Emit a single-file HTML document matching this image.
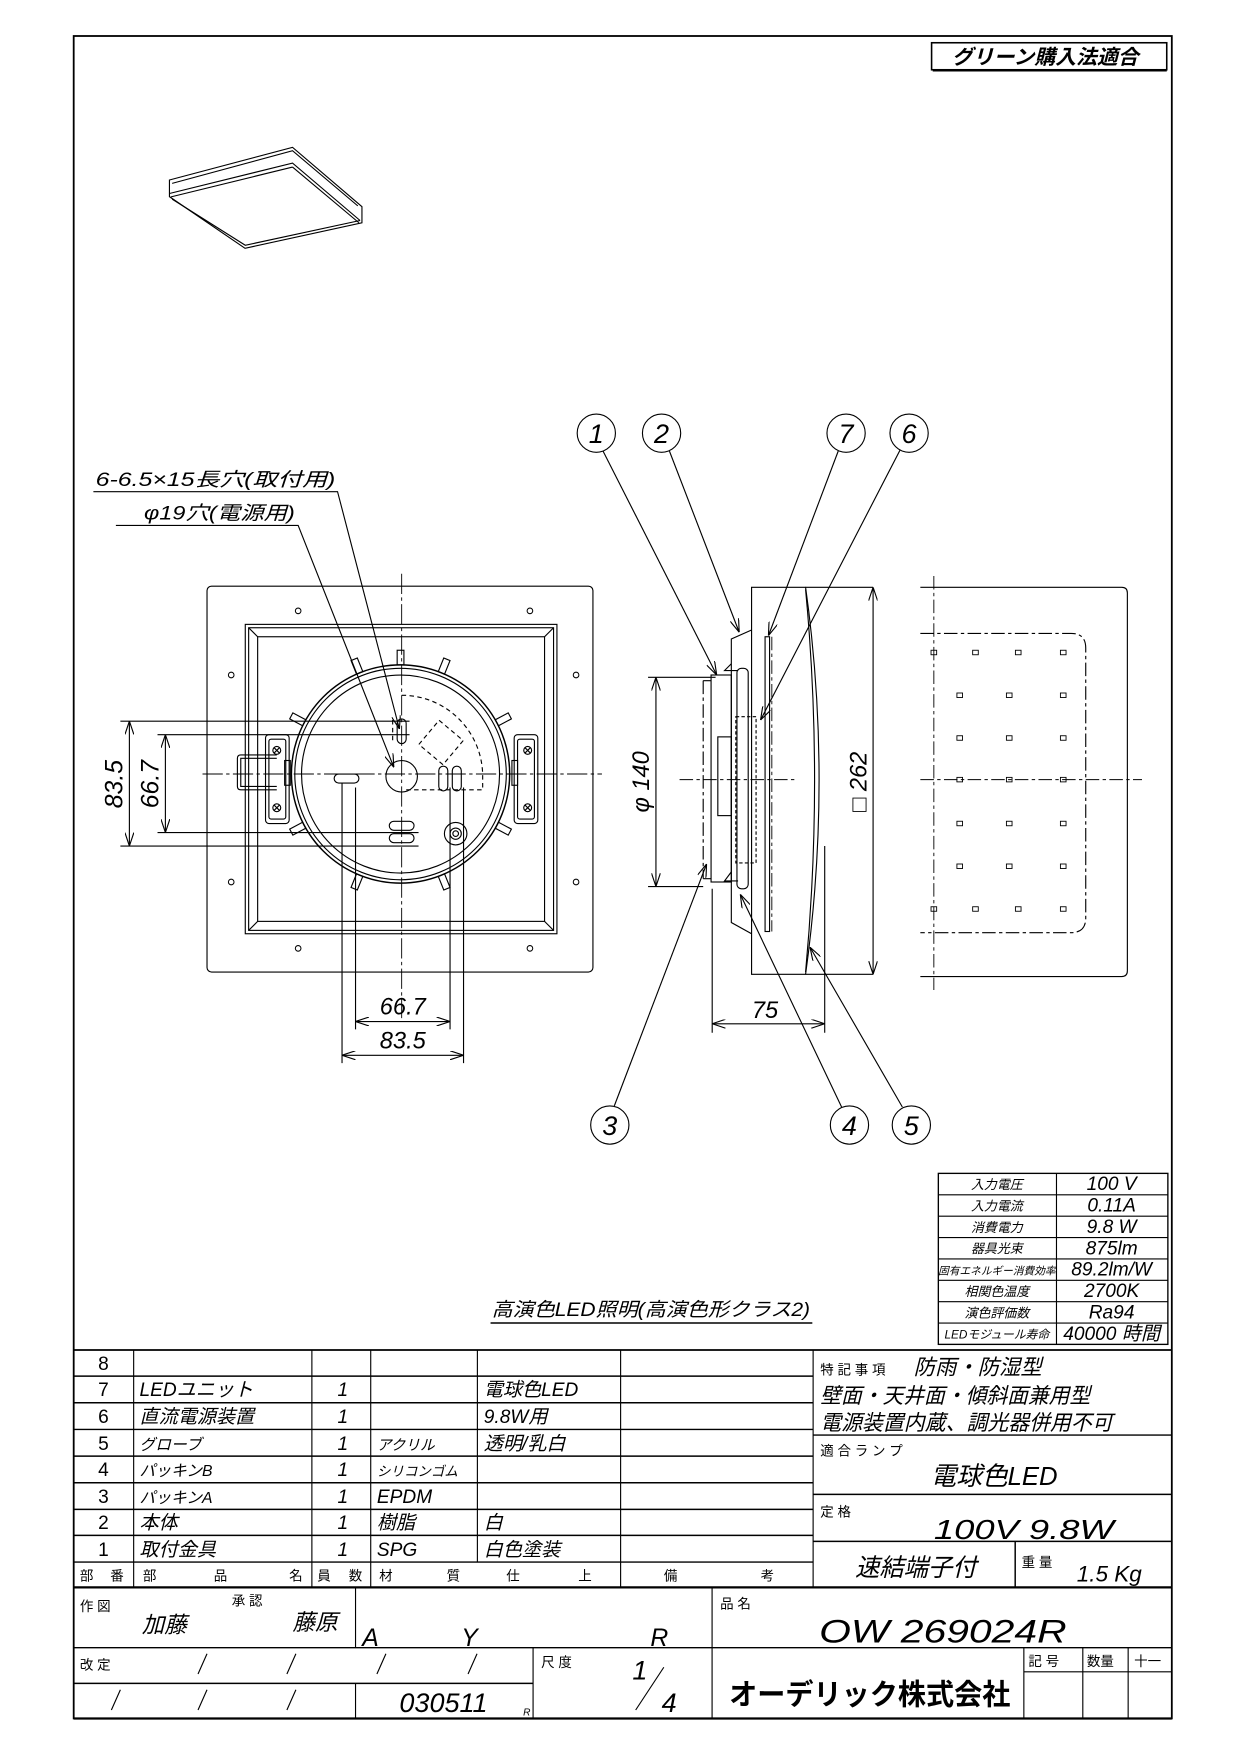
<!DOCTYPE html>
<html><head><meta charset="utf-8"><style>
html,body{margin:0;padding:0;background:#fff}
svg{display:block}
text{font-family:"Liberation Sans","Noto Sans CJK JP",sans-serif;fill:#000}
.i{font-style:italic}
</style></head><body>
<svg width="1241" height="1755" viewBox="0 0 1103 1560" preserveAspectRatio="none" xmlns="http://www.w3.org/2000/svg">
<defs>
<marker id="a" viewBox="0 0 12 8" refX="12" refY="4" markerWidth="12" markerHeight="8" orient="auto" markerUnits="userSpaceOnUse"><path d="M0,0 L12,4 L0,8" fill="none" stroke="#000" stroke-width="1"/></marker>
<marker id="b" viewBox="0 0 12 8" refX="0" refY="4" markerWidth="12" markerHeight="8" orient="auto" markerUnits="userSpaceOnUse"><path d="M12,0 L0,4 L12,8" fill="none" stroke="#000" stroke-width="1"/></marker>
</defs>
<g fill="none" stroke="#000" stroke-width="1">
<rect x="65.5" y="32" width="976" height="1495.5" stroke-width="1.6"/>
<rect x="828" y="38" width="209" height="24" stroke-width="1.4"/>
<line x1="829" y1="62.5" x2="1037" y2="62.5" stroke-width="2"/>
<path d="M150.6,160 L260,131 L321.7,183.7 L321.7,198 L217.8,220.7 L150.6,174.8 Z"/>
<path d="M153,163 L260,134 L318,183"/>
<path d="M150.6,172 L260,145 L320,196"/>
<path d="M152,175 L260,148.5"/>
<path d="M260,148.5 L319,198"/>
<path d="M153,177 L218,218 L320,196"/>
<rect x="184" y="521" width="343" height="343" rx="4"/>
<rect x="218" y="555" width="277" height="275"/>
<rect x="221" y="558" width="271" height="269"/>
<rect x="229" y="566" width="255" height="253"/>
<path d="M221,558 L229,566 M492,558 L484,566 M221,827 L229,819 M492,827 L484,819"/>
<g stroke-width="0.9">
<circle cx="265" cy="543" r="2.5"/><circle cx="471" cy="543" r="2.5"/>
<circle cx="205.5" cy="600" r="2.5"/><circle cx="512" cy="600" r="2.5"/>
<circle cx="205.5" cy="784" r="2.5"/><circle cx="512" cy="784" r="2.5"/>
<circle cx="265" cy="843" r="2.5"/><circle cx="471" cy="843" r="2.5"/>
</g>
<circle cx="356" cy="688" r="97" stroke-width="1.3"/>
<circle cx="356" cy="688" r="94"/>
<circle cx="356" cy="688" r="88"/>
<g transform="translate(356,688)">
<g id="tab"><rect x="-3" y="-110" width="6" height="13"/></g>
<use href="#tab" transform="rotate(-22)"/><use href="#tab" transform="rotate(22)"/>
<use href="#tab" transform="rotate(-62)"/><use href="#tab" transform="rotate(62)"/>
<use href="#tab" transform="rotate(-118)"/><use href="#tab" transform="rotate(118)"/>
<use href="#tab" transform="rotate(-158)"/><use href="#tab" transform="rotate(158)"/>
</g>
<rect x="236" y="653" width="21" height="79" rx="3" fill="#fff"/>
<rect x="239" y="657" width="15" height="71" rx="2"/>
<circle cx="246" cy="667" r="3.5"/><path d="M243.5,664.5 l5,5 M248.5,664.5 l-5,5"/>
<circle cx="246" cy="718" r="3.5"/><path d="M243.5,715.5 l5,5 M248.5,715.5 l-5,5"/>
<path d="M246,671 L214,671 Q211,671 211,674 L211,699 Q211,702 214,702 L246,702"/>
<path d="M246,674 L214,674 L214,699 L246,699"/>
<rect x="457" y="653" width="21" height="79" rx="3" fill="#fff"/>
<rect x="460" y="657" width="15" height="71" rx="2"/>
<circle cx="469" cy="667" r="3.5"/><path d="M466.5,664.5 l5,5 M471.5,664.5 l-5,5"/>
<circle cx="469" cy="718" r="3.5"/><path d="M466.5,715.5 l5,5 M471.5,715.5 l-5,5"/>
<rect x="253" y="676" width="5" height="22"/><rect x="455" y="676" width="5" height="22"/>
<circle cx="357" cy="690" r="14"/>
<rect x="353" y="639" width="8" height="22" rx="4"/>
<rect x="297" y="688" width="22" height="8" rx="4"/>
<rect x="390" y="681" width="8" height="22" rx="4"/><rect x="402" y="681" width="8" height="22" rx="4"/>
<rect x="346" y="730" width="22" height="8" rx="4"/><rect x="346" y="741" width="22" height="8" rx="4"/>
<circle cx="405" cy="741" r="10"/><circle cx="405" cy="741" r="5"/><circle cx="405" cy="741" r="2.5"/>
<g stroke-dasharray="4,3">
<path d="M357,618 A72,72 0 0 1 429,690 L429,702 L360,702"/>
<path d="M349,640 L349,660"/>
<rect x="378" y="646" width="28" height="28" transform="rotate(40 392 660)"/>
</g>
<g stroke-dasharray="18,3,3,3" stroke-width="0.8">
<line x1="357" y1="510" x2="357" y2="905"/>
<line x1="180" y1="688" x2="535" y2="688"/>
</g>
<line x1="107" y1="641" x2="364" y2="641"/><line x1="140" y1="653" x2="364" y2="653"/>
<line x1="140" y1="740" x2="372" y2="740"/><line x1="107" y1="752" x2="372" y2="752"/>
<line x1="115" y1="641" x2="115" y2="752" marker-start="url(#b)" marker-end="url(#a)"/>
<line x1="147" y1="653" x2="147" y2="740" marker-start="url(#b)" marker-end="url(#a)"/>
<line x1="304" y1="696" x2="304" y2="945"/><line x1="316" y1="700" x2="316" y2="915"/>
<line x1="400" y1="700" x2="400" y2="915"/><line x1="412" y1="700" x2="412" y2="945"/>
<line x1="316" y1="908" x2="400" y2="908" marker-start="url(#b)" marker-end="url(#a)"/>
<line x1="304" y1="938" x2="412" y2="938" marker-start="url(#b)" marker-end="url(#a)"/>
<path d="M83,437 L300,437 L355,648" marker-end="url(#a)"/>
<path d="M103,467 L265,467 L350,682" marker-end="url(#a)"/>
<path d="M668,522 L716,522 Q740,693 716,866 L668,866 Z"/>
<path d="M716,522 L776,522 M716,866 L776,866"/>
<path d="M716,524 Q732,693 716,864"/>
<path d="M668,560 L650,568 L650,820 L668,830"/>
<rect x="632" y="600" width="18" height="184"/>
<path d="M650,590 l-6,6 l12,0 M650,775 l-6,8 l12,0"/>
<rect x="655" y="594" width="10" height="196" rx="4"/>
<rect x="638" y="655" width="12" height="70"/>
<path d="M625,605 L632,605 M625,781 L632,781"/>
<line x1="625" y1="605" x2="625" y2="781" stroke-dasharray="12,3,3,3"/>
<rect x="680" y="566" width="4" height="262"/>
<rect x="654" y="637" width="18" height="130" stroke-dasharray="3,2"/>
<line x1="604" y1="693" x2="707" y2="693" stroke-dasharray="12,3,3,3" stroke-width="0.8"/>
<line x1="686" y1="566" x2="686" y2="828" stroke-dasharray="12,3,3,3" stroke-width="0.8"/>
<line x1="576" y1="602" x2="636" y2="602"/><line x1="576" y1="788" x2="625" y2="788"/>
<line x1="583" y1="602" x2="583" y2="788" marker-start="url(#b)" marker-end="url(#a)"/>
<line x1="776" y1="522" x2="776" y2="866" marker-start="url(#b)" marker-end="url(#a)"/>
<line x1="633" y1="790" x2="633" y2="918"/><line x1="733" y1="752" x2="733" y2="918"/>
<line x1="633" y1="910" x2="733" y2="910" marker-start="url(#b)" marker-end="url(#a)"/>
<circle cx="530" cy="385" r="17"/><circle cx="588" cy="385" r="17"/>
<circle cx="752" cy="385" r="17"/><circle cx="808" cy="385" r="17"/>
<circle cx="542" cy="1000" r="17"/><circle cx="755" cy="1000" r="17"/><circle cx="810" cy="1000" r="17"/>
<line x1="536" y1="401" x2="637" y2="600" marker-end="url(#a)"/>
<line x1="595" y1="401" x2="657" y2="562" marker-end="url(#a)"/>
<line x1="745" y1="401" x2="683" y2="565" marker-end="url(#a)"/>
<line x1="800" y1="400" x2="676" y2="640" marker-end="url(#a)"/>
<line x1="546" y1="983" x2="628" y2="768" marker-end="url(#a)"/>
<line x1="748" y1="984" x2="658" y2="795" marker-end="url(#a)"/>
<line x1="802" y1="984" x2="720" y2="842" marker-end="url(#a)"/>
<path d="M818,522 L997,522 Q1002,522 1002,527 L1002,863 Q1002,868 997,868 L818,868"/>
<path d="M818,563 L952,563 Q965,563 965,576 L965,816 Q965,829 952,829 L818,829" stroke-dasharray="12,3,3,3"/>
<line x1="830" y1="512" x2="830" y2="880" stroke-dasharray="12,3,3,3" stroke-width="0.8"/>
<line x1="818" y1="693" x2="1015" y2="693" stroke-dasharray="12,3,3,3" stroke-width="0.8"/>
<g stroke-width="0.8">
<rect x="827.5" y="578" width="5" height="4"/><rect x="864.5" y="578" width="5" height="4"/><rect x="902.5" y="578" width="5" height="4"/><rect x="942.5" y="578" width="5" height="4"/>
<rect x="850.5" y="616" width="5" height="4"/><rect x="894.5" y="616" width="5" height="4"/><rect x="942.5" y="616" width="5" height="4"/>
<rect x="850.5" y="654" width="5" height="4"/><rect x="894.5" y="654" width="5" height="4"/><rect x="942.5" y="654" width="5" height="4"/>
<rect x="850.5" y="691" width="5" height="4"/><rect x="894.5" y="691" width="5" height="4"/><rect x="942.5" y="691" width="5" height="4"/>
<rect x="850.5" y="730" width="5" height="4"/><rect x="894.5" y="730" width="5" height="4"/><rect x="942.5" y="730" width="5" height="4"/>
<rect x="850.5" y="768" width="5" height="4"/><rect x="894.5" y="768" width="5" height="4"/><rect x="942.5" y="768" width="5" height="4"/>
<rect x="827.5" y="806" width="5" height="4"/><rect x="864.5" y="806" width="5" height="4"/><rect x="902.5" y="806" width="5" height="4"/><rect x="942.5" y="806" width="5" height="4"/>
</g>
<rect x="834" y="1043" width="204" height="152" stroke-width="1.2"/>
<line x1="939" y1="1043" x2="939" y2="1195"/>
<path d="M834,1062 H1038 M834,1081 H1038 M834,1100 H1038 M834,1119 H1038 M834,1138 H1038 M834,1157 H1038 M834,1176 H1038"/>
<line x1="436" y1="1176" x2="722" y2="1176" stroke-width="1.4"/>
<line x1="65.5" y1="1200" x2="1041.5" y2="1200" stroke-width="1.6"/>
<path d="M65.5,1223.2 H722.7 M65.5,1246.9 H722.7 M65.5,1270.6 H722.7 M65.5,1294.3 H722.7 M65.5,1318 H722.7 M65.5,1341.7 H722.7 M65.5,1364.8 H722.7 M65.5,1388.5 H722.7" stroke-width="1.3"/>
<path d="M118.8,1200 V1411 M277.2,1200 V1411 M329.5,1200 V1411 M424.3,1200 V1388.5 M551.6,1200 V1411 M722.7,1200 V1411"/>
<path d="M722.7,1275.6 H1041.5 M722.7,1328.3 H1041.5 M722.7,1370.1 H1041.5 M902.3,1370.1 V1411" stroke-width="1.3"/>
<line x1="65.5" y1="1411" x2="1041.5" y2="1411" stroke-width="2"/>
<line x1="65.5" y1="1464.6" x2="1041.5" y2="1464.6" stroke-width="1.3"/>
<line x1="65.5" y1="1496.3" x2="473.8" y2="1496.3" stroke-width="1.3"/>
<path d="M316,1411 V1464.6 M316,1496.3 V1527.5 M473.8,1464.6 V1527.5 M632.9,1411 V1527.5 M910,1464.6 V1527.5 M962.4,1464.6 V1527.5 M1002.7,1464.6 V1527.5 M910,1486 H1041.5"/>
<line x1="65.5" y1="1527.5" x2="1041.5" y2="1527.5" stroke-width="2"/>
<path d="M176,1488 L184,1470 M255,1488 L263,1470 M335,1488 L343,1470 M416,1488 L424,1470 M99,1520 L107,1502 M176,1520 L184,1502 M255,1520 L263,1502"/>
</g>

<text x="846" y="57" font-size="18" font-weight="bold" font-style="italic" textLength="166" lengthAdjust="spacingAndGlyphs">グリーン購入法適合</text>
<text class="i" x="85" y="432" font-size="17" textLength="213" lengthAdjust="spacingAndGlyphs">6-6.5×15長穴(取付用)</text>
<text class="i" x="128" y="462" font-size="17" textLength="134" lengthAdjust="spacingAndGlyphs">φ19穴(電源用)</text>
<text class="i" font-size="22" transform="translate(109,697) rotate(-90)" text-anchor="middle">83.5</text>
<text class="i" font-size="22" transform="translate(141,697) rotate(-90)" text-anchor="middle">66.7</text>
<text class="i" x="358" y="902" font-size="21" text-anchor="middle">66.7</text>
<text class="i" x="358" y="932" font-size="21" text-anchor="middle">83.5</text>
<text class="i" font-size="21" transform="translate(577,695) rotate(-90)" text-anchor="middle">φ 140</text>
<text class="i" font-size="21" transform="translate(770,695) rotate(-90)" text-anchor="middle">□ 262</text>
<text class="i" x="680" y="905" font-size="21" text-anchor="middle">75</text>
<g class="i" font-size="24" text-anchor="middle">
<text x="530" y="394">1</text><text x="588" y="394">2</text><text x="752" y="394">7</text><text x="808" y="394">6</text>
<text x="542" y="1009">3</text><text x="755" y="1009">4</text><text x="810" y="1009">5</text>
</g>
<g font-size="11.5" text-anchor="middle" class="i">
<text x="886" y="1057">入力電圧</text><text x="886" y="1076">入力電流</text><text x="886" y="1095">消費電力</text><text x="886" y="1114">器具光束</text>
<text x="886" y="1133" font-size="9.5">固有エネルギー消費効率</text><text x="886" y="1152">相関色温度</text><text x="886" y="1171">演色評価数</text><text x="886" y="1190" font-size="10.5">LEDモジュール寿命</text>
</g>
<g font-size="17" text-anchor="middle" class="i">
<text x="988" y="1058">100 V</text><text x="988" y="1077">0.11A</text><text x="988" y="1096">9.8 W</text><text x="988" y="1115">875lm</text>
<text x="988" y="1134">89.2lm/W</text><text x="988" y="1153">2700K</text><text x="988" y="1172">Ra94</text><text x="988" y="1191">40000 時間</text>
</g>
<text class="i" x="437" y="1170" font-size="17" textLength="283" lengthAdjust="spacingAndGlyphs">高演色LED照明(高演色形クラス2)</text>
<g font-size="17">
<g text-anchor="middle"><text x="92" y="1218">8</text><text x="92" y="1241">7</text><text x="92" y="1265">6</text><text x="92" y="1289">5</text><text x="92" y="1312">4</text><text x="92" y="1336">3</text><text x="92" y="1359">2</text><text x="92" y="1383">1</text></g>
<g class="i">
<text x="124" y="1241">LEDユニット</text><text x="124" y="1265">直流電源装置</text><text x="124" y="1289" font-size="14">グローブ</text><text x="124" y="1312" font-size="14">パッキンB</text><text x="124" y="1336" font-size="14">パッキンA</text><text x="124" y="1359">本体</text><text x="124" y="1383">取付金具</text>
<text x="300" y="1241">1</text><text x="300" y="1265">1</text><text x="300" y="1289">1</text><text x="300" y="1312">1</text><text x="300" y="1336">1</text><text x="300" y="1359">1</text><text x="300" y="1383">1</text>
<text x="335" y="1289" font-size="13">アクリル</text><text x="335" y="1312" font-size="12">シリコンゴム</text><text x="335" y="1336">EPDM</text><text x="335" y="1359">樹脂</text><text x="335" y="1383">SPG</text>
<text x="430" y="1241">電球色LED</text><text x="430" y="1265">9.8W用</text><text x="430" y="1289">透明/乳白</text><text x="430" y="1359">白</text><text x="430" y="1383">白色塗装</text>
</g>
</g>
<g font-size="12">
<text x="71" y="1405">部</text><text x="98" y="1405">番</text>
<text x="127" y="1405">部</text><text x="190" y="1405">品</text><text x="257" y="1405">名</text>
<text x="282" y="1405">員</text><text x="310" y="1405">数</text>
<text x="337" y="1405">材</text><text x="397" y="1405">質</text>
<text x="450" y="1405">仕</text><text x="514" y="1405">上</text>
<text x="590" y="1405">備</text><text x="676" y="1405">考</text>
<text x="729" y="1222">特 記 事 項</text>
<text x="729" y="1294">適 合 ラ ン プ</text>
<text x="729" y="1348">定 格</text>
<text x="908" y="1393">重 量</text>
<text x="71" y="1432">作 図</text><text x="206" y="1427">承 認</text><text x="640" y="1430">品 名</text>
<text x="71" y="1484">改 定</text><text x="481" y="1482">尺 度</text>
<text x="914" y="1481">記 号</text><text x="966" y="1481">数量</text><text x="1008" y="1481">十一</text>
</g>
<g class="i">
<text x="812" y="1222" font-size="19">防雨・防湿型</text>
<text x="729" y="1247" font-size="19" textLength="240" lengthAdjust="spacingAndGlyphs">壁面・天井面・傾斜面兼用型</text>
<text x="729" y="1271" font-size="19" textLength="260" lengthAdjust="spacingAndGlyphs">電源装置内蔵、調光器併用不可</text>
<text x="827" y="1320" font-size="23" textLength="113" lengthAdjust="spacingAndGlyphs">電球色LED</text>
<text x="830" y="1368" font-size="25" textLength="160" lengthAdjust="spacingAndGlyphs">100V  9.8W</text>
<text x="760" y="1401" font-size="22" textLength="108" lengthAdjust="spacingAndGlyphs">速結端子付</text>
<text x="957" y="1406" font-size="20">1.5  Kg</text>
<text x="126" y="1451" font-size="20">加藤</text><text x="260" y="1449" font-size="20">藤原</text>
<text x="322" y="1463" font-size="22">A</text><text x="410" y="1463" font-size="22">Y</text><text x="578" y="1463" font-size="22">R</text>
<text x="728" y="1460" font-size="29" textLength="220" lengthAdjust="spacingAndGlyphs">OW  269024R</text>
<text x="355" y="1522" font-size="24">030511</text><text x="465" y="1525" font-size="9">R</text>
<text x="562" y="1493" font-size="24">1</text><text x="588" y="1522" font-size="24">4</text>
</g>
<line x1="565" y1="1520" x2="590" y2="1482" stroke="#000" stroke-width="1"/>
<text x="648" y="1515" font-size="26" font-weight="bold" textLength="250" lengthAdjust="spacingAndGlyphs">オーデリック株式会社</text>
</svg>
</body></html>
